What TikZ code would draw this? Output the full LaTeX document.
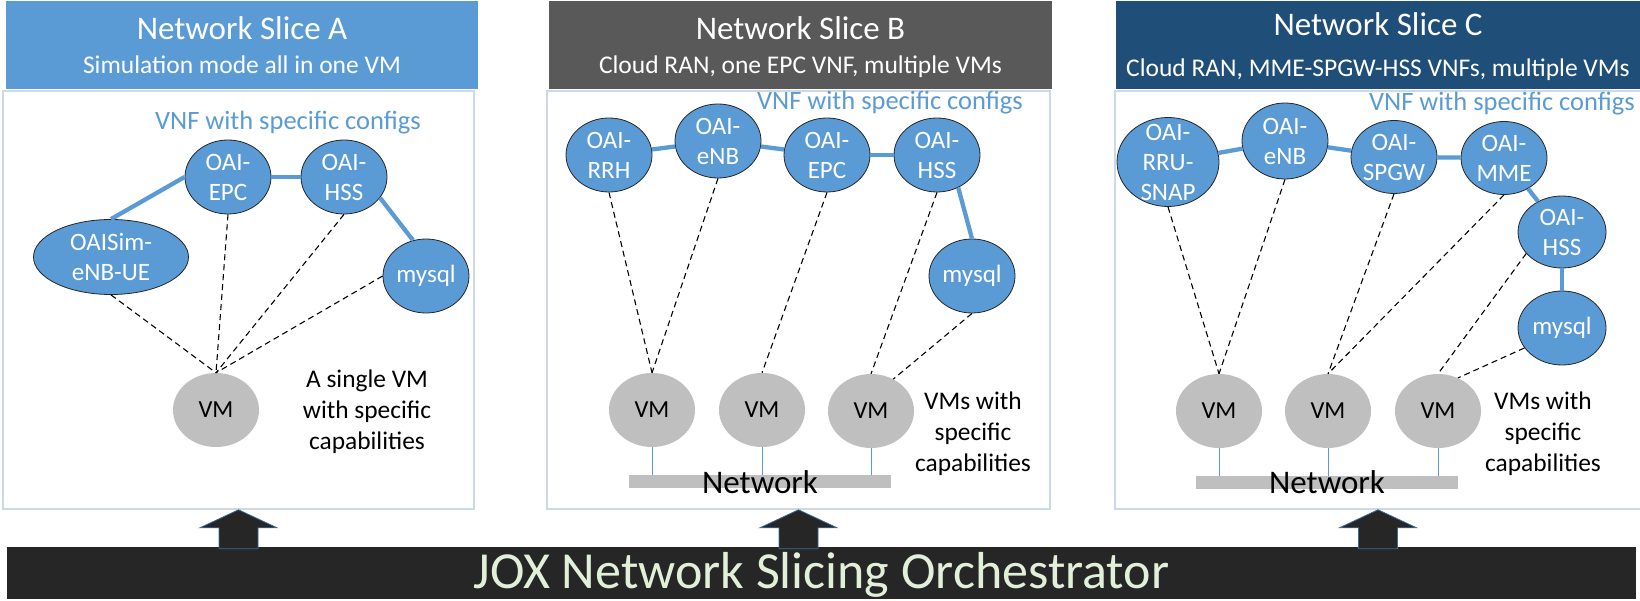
\documentclass[tikz,border=0pt]{standalone}
\usepackage{fontspec}
\setmainfont{Carlito}
\usetikzlibrary{shapes.geometric}

\definecolor{vnfblue}{HTML}{5B9BD5}
\definecolor{vmgray}{HTML}{BFBFBF}
\definecolor{slicegray}{HTML}{595959}
\definecolor{slicenavy}{HTML}{1F4E79}
\definecolor{orchblack}{HTML}{262626}
\definecolor{orchtext}{HTML}{E2F0D9}
\definecolor{panelline}{HTML}{CDD9E7}

\begin{document}
\begin{tikzpicture}[x=1pt,y=-1pt]

	\tikzset{
	    vnf/.style={ellipse,draw=black!85,line width=0.8pt,fill=vnfblue,text=white,inner sep=-15pt,
	        minimum width=86pt,minimum height=74pt,align=center,font=\fontsize{25}{30}\selectfont},
	    vmnode/.style={ellipse,fill=vmgray,inner sep=-15pt,minimum width=86pt,minimum height=74pt,
	        font=\fontsize{24.5}{29}\selectfont},
	    vnflink/.style={draw=vnfblue,line width=4.3pt},
	    hostlink/.style={draw=black,line width=1.1pt,dash pattern=on 6pt off 4pt},
	    netwire/.style={draw=vnfblue,line width=1pt},
	    slicehead/.style={rectangle,inner sep=0pt,minimum height=88pt},
	    slicebox/.style={rectangle,draw=panelline,line width=1.5pt,fill=white,inner sep=0pt,minimum height=418pt},
	    netbar/.style={rectangle,fill=vmgray,inner sep=0pt,minimum width=262pt,minimum height=13pt},
	    slicetitle/.style={anchor=base,text=white,font=\fontsize{33}{40}\selectfont},
	    slicesub/.style={anchor=base,text=white,font=\fontsize{25.5}{31}\selectfont},
	    cfglabel/.style={text=vnfblue,font=\fontsize{26.5}{32}\selectfont},
	    vmnote/.style={align=center,font=\fontsize{25.4}{31}\selectfont},
	    netlabel/.style={font=\fontsize{33}{40}\selectfont},
	    blockarrow/.style={fill=orchblack,draw=vnfblue!70!black,line width=0.8pt}
	}
	\useasboundingbox (0,0) rectangle (1640,601);

	    \node[slicebox,minimum width=471pt] (panela) at (238.5,300) {};
	    \node[slicebox,minimum width=503pt] (panelb) at (798.5,300) {};
	    \node[slicebox,minimum width=526pt] (panelc) at (1378,300) {};

	    \node[slicehead,fill=vnfblue,minimum width=472pt] (heada) at (242,45) {};
	    \node[slicehead,fill=slicegray,minimum width=503pt] (headb) at (800.5,45) {};
	    \node[slicehead,fill=slicenavy,minimum width=524pt] (headc) at (1378,45) {};
	    \node[slicetitle] (titlea) at (242,40) {Network Slice A};
	    \node[slicesub] (suba) at (242,74) {Simulation mode all in one VM};
	    \node[slicetitle] (titleb) at (800.5,40) {Network Slice B};
	    \node[slicesub] (subb) at (800.5,74) {Cloud RAN, one EPC VNF, multiple VMs};
	    \node[slicetitle] (titlec) at (1378,36) {Network Slice C};
	    \node[slicesub] (subc) at (1378,77) {Cloud RAN, MME-SPGW-HSS VNFs, multiple VMs};

	    % slice A
	    \node[cfglabel] (cfga) at (288,123) {VNF with specific configs};
	    \node[vnf,minimum width=155pt,minimum height=75pt] (uea) at (111,257) {OAISim-\\eNB-UE};
	    \node[vnf] (epca) at (228,177) {OAI-\\EPC};
	    \node[vnf] (hssa) at (344,177) {OAI-\\HSS};
	    \node[vnf] (mysqla) at (426,276) {mysql};
	    \node[vmnode] (vma) at (216,410) {VM};
	    \node[vmnote] (notea) at (367,412) {A single VM\\with specific\\capabilities};
	    \draw[vnflink] (uea.north) -- (epca.west);
	    \draw[vnflink] (epca) -- (hssa);
	    \draw[vnflink] (hssa.-30) -- (mysqla.110);
	    \draw[hostlink] (uea.south) -- (vma.north);
	    \draw[hostlink] (epca.south) -- (vma.north);
	    \draw[hostlink] (hssa.south) -- (vma.north);
	    \draw[hostlink] (mysqla.west) -- (vma.north);

	    % slice B
	    \node[cfglabel] (cfgb) at (890,103) {VNF with specific configs};
	    \node[vnf] (rrhb) at (609,155) {OAI-\\RRH};
	    \node[vnf] (enbb) at (718,141) {OAI-\\eNB};
	    \node[vnf] (epcb) at (827,155) {OAI-\\EPC};
	    \node[vnf] (hssb) at (937,155) {OAI-\\HSS};
	    \node[vnf] (mysqlb) at (972,276) {mysql};
	    \node[vmnode] (vmb1) at (652,410) {VM};
	    \node[vmnode] (vmb2) at (762,410) {VM};
	    \node[vmnode] (vmb3) at (871,411) {VM};
	    \node[netbar] (netb) at (760,481.5) {};
	    \node[netlabel] (netlblb) at (760,482) {Network};
	    \node[vmnote] (noteb) at (973,434) {VMs with\\specific\\capabilities};
	    \draw[vnflink] (rrhb) -- (enbb);
	    \draw[vnflink] (enbb) -- (epcb);
	    \draw[vnflink] (epcb) -- (hssb);
	    \draw[vnflink] (hssb.-57) -- (mysqlb.north);
	    \draw[hostlink] (rrhb.south) -- (vmb1.north);
	    \draw[hostlink] (enbb.south) -- (vmb1.north);
	    \draw[hostlink] (epcb.south) -- (vmb2.north);
	    \draw[hostlink] (hssb.south) -- (vmb3.north);
	    \draw[hostlink] (mysqlb.south) -- (vmb3.55);
	    \foreach \v in {vmb1,vmb2,vmb3}
	        \draw[netwire] (\v.south) -- (\v.south |- netb.north);

	    % slice C
	    \node[cfglabel] (cfgc) at (1502,104) {VNF with specific configs};
	    \node[vnf,minimum width=102pt,minimum height=89pt] (rruc) at (1168,162) {OAI-\\RRU-\\SNAP};
	    \node[vnf,minimum height=76pt] (enbc) at (1285,141) {OAI-\\eNB};
	    \node[vnf,minimum height=73pt] (spgwc) at (1394,157) {OAI-\\SPGW};
	    \node[vnf,minimum height=73pt] (mmec) at (1504,158) {OAI-\\MME};
	    \node[vnf,minimum width=88pt,minimum height=72pt] (hssc) at (1562,232) {OAI-\\HSS};
	    \node[vnf,minimum width=88pt] (mysqlc) at (1562,328) {mysql};
	    \node[vmnode] (vmc1) at (1219,411) {VM};
	    \node[vmnode] (vmc2) at (1328,411) {VM};
	    \node[vmnode] (vmc3) at (1438,411) {VM};
	    \node[netbar] (netc) at (1327,482.5) {};
	    \node[netlabel] (netlblc) at (1327,482) {Network};
	    \node[vmnote] (notec) at (1543,434) {VMs with\\specific\\capabilities};
	    \draw[vnflink] (rruc) -- (enbc);
	    \draw[vnflink] (enbc) -- (spgwc);
	    \draw[vnflink] (spgwc) -- (mmec);
	    \draw[vnflink] (mmec) -- (hssc);
	    \draw[vnflink] (hssc) -- (mysqlc);
	    \draw[hostlink] (rruc.south) -- (vmc1.north);
	    \draw[hostlink] (enbc.south) -- (vmc1.north);
	    \draw[hostlink] (spgwc.south) -- (vmc2.north);
	    \draw[hostlink] (mmec.south) -- (vmc2.north);
	    \draw[hostlink] (hssc.211) -- (vmc3.north);
	    \draw[hostlink] (mysqlc.208) -- (vmc3.59);
	    \foreach \v in {vmc1,vmc2,vmc3}
	        \draw[netwire] (\v.south) -- (\v.south |- netc.north);

	    % orchestrator
	    \node[rectangle,fill=orchblack,inner sep=0pt,minimum width=1629pt,minimum height=52pt,
	        text height=40pt,text depth=10pt,
	        text=orchtext,font=\fontsize{52}{60}\selectfont] (orch) at (821.5,573) {JOX Network Slicing Orchestrator};
	    \foreach \p in {panela,panelb,panelc}
	        \draw[blockarrow] (\p.south) -- ++(38.5,18) -- ++(-19,0) -- ++(0,21) -- ++(-39,0) -- ++(0,-21) -- ++(-19,0) -- cycle;

\end{tikzpicture}
\end{document}
